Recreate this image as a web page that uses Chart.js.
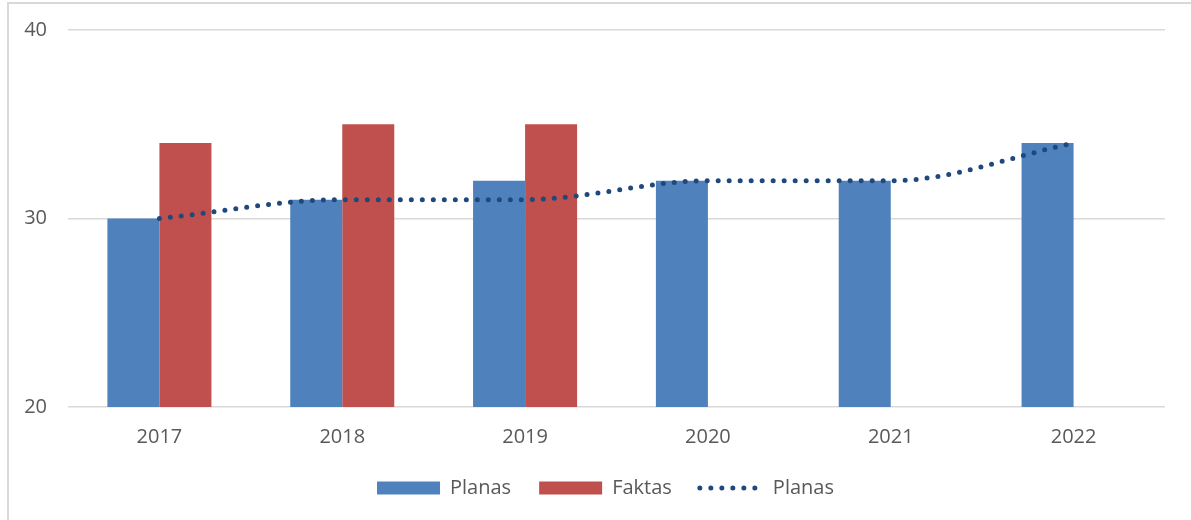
<!DOCTYPE html>
<html>
<head>
<meta charset="utf-8">
<script src="https://cdn.jsdelivr.net/npm/chart.js@4/dist/chart.umd.min.js"></script>
<style>
  html, body { margin: 0; padding: 0; background: #fff; overflow: hidden; width: 1191px; height: 520px; }
  #frame { position: absolute; left: 7px; top: 2px; width: 1300px; height: 700px; border-top: 2px solid #d9d9d9; border-left: 2px solid #d9d9d9; }
  #wrap { position: absolute; left: 8px; top: -3px; width: 1195px; height: 523px; }
</style>
</head>
<body>
<div id="frame"></div>
<div id="wrap"><canvas id="c" width="1195" height="523"></canvas></div>
<script>
const categories = ['2017', '2018', '2019', '2020', '2021', '2022'];
const planasBars = [30, 31, 32, 32, 32, 34];
const faktasBars = [34, 35, 35, null, null, null];
const planasLine = [30, 31, 31, 32, 32, 34];
const yTicks = [20, 30, 40];
const seriesNames = ['Planas', 'Faktas', 'Planas'];

const BLUE = '#4f81bd', RED = '#c0504d', NAVY = '#1f497d', TXT = '#595959';
const FONT = { family: '"Open Sans", "Liberation Sans", sans-serif', size: 20 };

const shiftLegend = {
  id: 'shiftLegend',
  afterLayout(chart) {
    if (chart.legend) { chart.legend.left += 38; }
  }
};

new Chart(document.getElementById('c'), {
  type: 'bar',
  data: {
    labels: categories,
    datasets: [
      { label: seriesNames[0], data: planasBars, backgroundColor: BLUE, order: 1,
        barPercentage: 1, categoryPercentage: 0.569 },
      { label: seriesNames[1], data: faktasBars, backgroundColor: RED, order: 1,
        barPercentage: 1, categoryPercentage: 0.569 },
      { type: 'line', label: seriesNames[2], data: planasLine, borderColor: NAVY,
        backgroundColor: NAVY, borderWidth: 5, borderDash: [0, 11], borderCapStyle: 'round',
        pointRadius: 0, cubicInterpolationMode: 'monotone', fill: false, order: 0 }
    ]
  },
  plugins: [shiftLegend],
  options: {
    responsive: false,
    animation: false,
    devicePixelRatio: 1,
    layout: { padding: { left: 0, right: 38, top: 2, bottom: 12 } },
    plugins: {
      tooltip: { enabled: false },
      legend: {
        position: 'bottom',
        labels: {
          color: TXT, font: FONT, padding: 28, usePointStyle: true,
          pointStyleWidth: 63, boxHeight: 13,
          generateLabels: (chart) => {
            const ds = chart.data.datasets;
            return [
              { text: ds[0].label, fillStyle: BLUE, strokeStyle: BLUE, lineWidth: 0, pointStyle: 'rect', datasetIndex: 0, fontColor: TXT },
              { text: ds[1].label, fillStyle: RED, strokeStyle: RED, lineWidth: 0, pointStyle: 'rect', datasetIndex: 1, fontColor: TXT },
              { text: ds[2].label, fillStyle: NAVY, strokeStyle: NAVY, lineWidth: 5, lineCap: 'round', lineDash: [0, 11], pointStyle: 'line', datasetIndex: 2, fontColor: TXT }
            ];
          }
        }
      }
    },
    scales: {
      x: {
        afterFit: (s) => { s.height = 43; },
        grid: { display: false },
        border: { display: false },
        ticks: { color: TXT, font: FONT, padding: 10, maxRotation: 0 }
      },
      y: {
        min: 20, max: 40,
        afterFit: (s) => { s.width = 60; },
        afterBuildTicks: (s) => { s.ticks = yTicks.map(v => ({ value: v })); },
        grid: { color: '#d9d9d9', lineWidth: 1.5, drawTicks: false },
        border: { display: false },
        ticks: { color: TXT, font: FONT, padding: 21, stepSize: 10 }
      }
    }
  }
});
</script>
</body>
</html>
